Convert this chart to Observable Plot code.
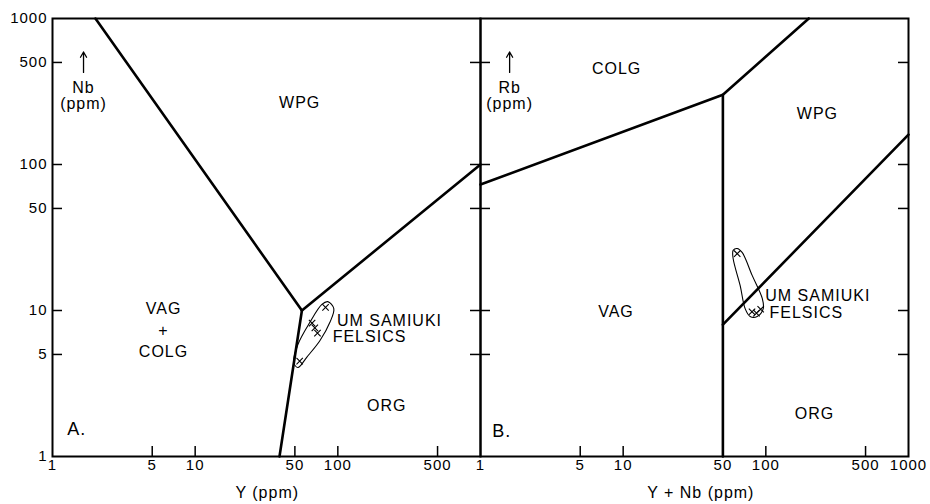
<!DOCTYPE html>
<html><head><meta charset="utf-8">
<script src="https://cdn.jsdelivr.net/npm/d3@7"></script>
<script src="https://cdn.jsdelivr.net/npm/@observablehq/plot@0.6"></script>
<style>body{margin:0;background:#fff} svg{display:block} svg text{letter-spacing:1px}</style>
</head><body><div id="chart"></div>
<script>
// Panels
const panels = ["A", "B"];
// Tick values and labels
const tickValues = [5, 10, 50, 100, 500];
const xTickLabelsA = [1, 5, 10, 50, 100, 500];
const xTickLabelsB = [1, 5, 10, 50, 100, 500, 1000];
const yTickLabels = [1, 5, 10, 50, 100, 500, 1000];
const xTitles = ["Y (ppm)", "Y + Nb (ppm)"];
const xTitlePos = [32, 35];

// Discrimination boundaries, [x, y] pairs (ppm)
const boundaryA_WPG = [[2.0, 1000], [56, 10]];
const boundaryA_ORGlow = [[56, 10], [39, 1]];
const boundaryA_ORGhigh = [[56, 10], [1000, 100]];
const boundaryB_COLG = [[1, 73], [50, 300], [200, 1000]];
const boundaryB_vert = [[50, 300], [50, 1]];
const boundaryB_ORG = [[50, 8], [1000, 160]];

// Um Samiuki felsic samples
const samplesA = [[82, 10.5], [69, 7.6], [72, 7.0], [66, 8.2], [54, 4.5]];
const samplesB = [[63, 24.5], [80, 9.8], [86, 9.6], [92, 10.2]];

// Field outlines around samples
const outlineA = [[85, 11.5], [93.7, 10.3], [88, 8.3], [74.8, 6.2], [60.7, 4.8], [52.5, 4.07], [49.2, 4.4], [52.5, 5.85], [63.7, 8.3], [77.3, 11.0]];
const outlineB = [[63, 26.6], [68.2, 25.0], [80.2, 17.4], [94.4, 12.1], [95.9, 10.3], [87, 9.1], [77.6, 9.1], [71.6, 10.3], [66.1, 14.8], [59, 22.7], [59, 25.8]];

// Field labels
const fieldLabelsA = [
  {text: "WPG", x: 54, y: 274},
  {text: "VAG\n+\nCOLG", x: 6.0, y: 7.5},
  {text: "ORG", x: 220, y: 2.3}
];
const fieldLabelsB = [
  {text: "COLG", x: 9.0, y: 462},
  {text: "WPG", x: 230, y: 227},
  {text: "VAG", x: 8.9, y: 10},
  {text: "ORG", x: 219, y: 2.0}
];
const panelLetters = [{panel: "A", text: "A.", x: 1.27, y: 1.53}, {panel: "B", text: "B.", x: 1.21, y: 1.5}];
const sampleLabels = [
  {panel: "A", text: "UM SAMIUKI", x: 98.5, y: 8.5},
  {panel: "A", text: "FELSICS", x: 92, y: 6.6},
  {panel: "B", text: "UM SAMIUKI", x: 99, y: 12.5},
  {panel: "B", text: "FELSICS", x: 106, y: 9.7}
];
const axisNames = [
  {panel: "A", name: "Nb", x: 1.65},
  {panel: "B", name: "Rb", x: 1.6}
];

// Build tables
const lines = [];
const addLine = (panel, id, pts) => pts.forEach(([x, y]) => lines.push({panel, id, x, y}));
addLine("A", "a1", boundaryA_WPG);
addLine("A", "a2", boundaryA_ORGlow);
addLine("A", "a3", boundaryA_ORGhigh);
addLine("B", "b1", boundaryB_COLG);
addLine("B", "b2", boundaryB_vert);
addLine("B", "b3", boundaryB_ORG);

const outlines = [];
outlineA.forEach(([x, y]) => outlines.push({panel: "A", x, y}));
outlineB.forEach(([x, y]) => outlines.push({panel: "B", x, y}));

const samples = [];
samplesA.forEach(([x, y]) => samples.push({panel: "A", x, y}));
samplesB.forEach(([x, y]) => samples.push({panel: "B", x, y}));

const fieldLabels = [
  ...fieldLabelsA.map(d => ({...d, panel: "A"})),
  ...fieldLabelsB.map(d => ({...d, panel: "B"}))
];

const xLabels = [
  ...xTickLabelsA.map(v => ({panel: "A", v})),
  ...xTickLabelsB.map(v => ({panel: "B", v}))
];
const yLabels = yTickLabels.map(v => ({panel: "A", v}));
const titles = panels.map((p, i) => ({panel: p, x: xTitlePos[i], text: xTitles[i]}));

const chart = Plot.plot({
  width: 930, height: 504,
  marginLeft: 52, marginRight: 22, marginTop: 18, marginBottom: 48,
  style: {fontFamily: "'Liberation Sans', 'DejaVu Sans', sans-serif", background: "white", color: "black"},
  fx: {domain: panels, axis: null, padding: 0},
  x: {type: "log", domain: [1, 1000], axis: null},
  y: {type: "log", domain: [1, 1000], axis: null},
  marks: [
    Plot.frame({stroke: "black", strokeWidth: 2}),
    // inward ticks
    Plot.tickX(tickValues, {x: d => d, stroke: "black", strokeWidth: 1.5, insetTop: 428}),
    Plot.tickY(tickValues, {y: d => d, stroke: "black", strokeWidth: 1.5, insetRight: 418}),
    Plot.tickY(tickValues, {y: d => d, stroke: "black", strokeWidth: 1.5, insetLeft: 418}),
    // tick labels
    Plot.text(xLabels, {x: "v", fx: "panel", text: d => String(d.v), frameAnchor: "bottom", dy: 13, fontSize: 15, fill: "black"}),
    Plot.text(yLabels, {y: "v", fx: "panel", text: d => String(d.v), frameAnchor: "left", textAnchor: "end", dx: -5, fontSize: 15, fill: "black"}),
    // axis titles
    Plot.text(titles, {x: "x", fx: "panel", text: "text", frameAnchor: "bottom", dy: 41, fontSize: 16, fill: "black"}),
    // boundaries
    Plot.line(lines, {x: "x", y: "y", z: "id", fx: "panel", stroke: "black", strokeWidth: 2.6, strokeLinejoin: "miter"}),
    // sample fields
    Plot.line(outlines, {x: "x", y: "y", z: "panel", fx: "panel", curve: "catmull-rom-closed", stroke: "black", strokeWidth: 1.1}),
    Plot.dot(samples, {x: "x", y: "y", fx: "panel", symbol: "times", r: 3, stroke: "black", strokeWidth: 1.1}),
    // labels
    Plot.text(fieldLabels, {x: "x", y: "y", fx: "panel", text: "text", fontSize: 16, lineHeight: 1.35, fill: "black"}),
    Plot.text(panelLetters, {x: "x", y: "y", fx: "panel", text: "text", textAnchor: "start", fontSize: 18, fill: "black"}),
    Plot.text(sampleLabels, {x: "x", y: "y", fx: "panel", text: "text", textAnchor: "start", fontSize: 16, fill: "black"}),
    Plot.arrow(axisNames, {x: "x", y1: 427, y2: 590, fx: "panel", stroke: "black", strokeWidth: 1.3, headLength: 7}),
    Plot.text(axisNames, {x: "x", y: 337, fx: "panel", text: "name", fontSize: 16, fill: "black"}),
    Plot.text(axisNames, {x: "x", y: 262, fx: "panel", text: () => "(ppm)", fontSize: 16, fill: "black"})
  ]
});
document.getElementById("chart").appendChild(chart);
</script>
</body></html>
